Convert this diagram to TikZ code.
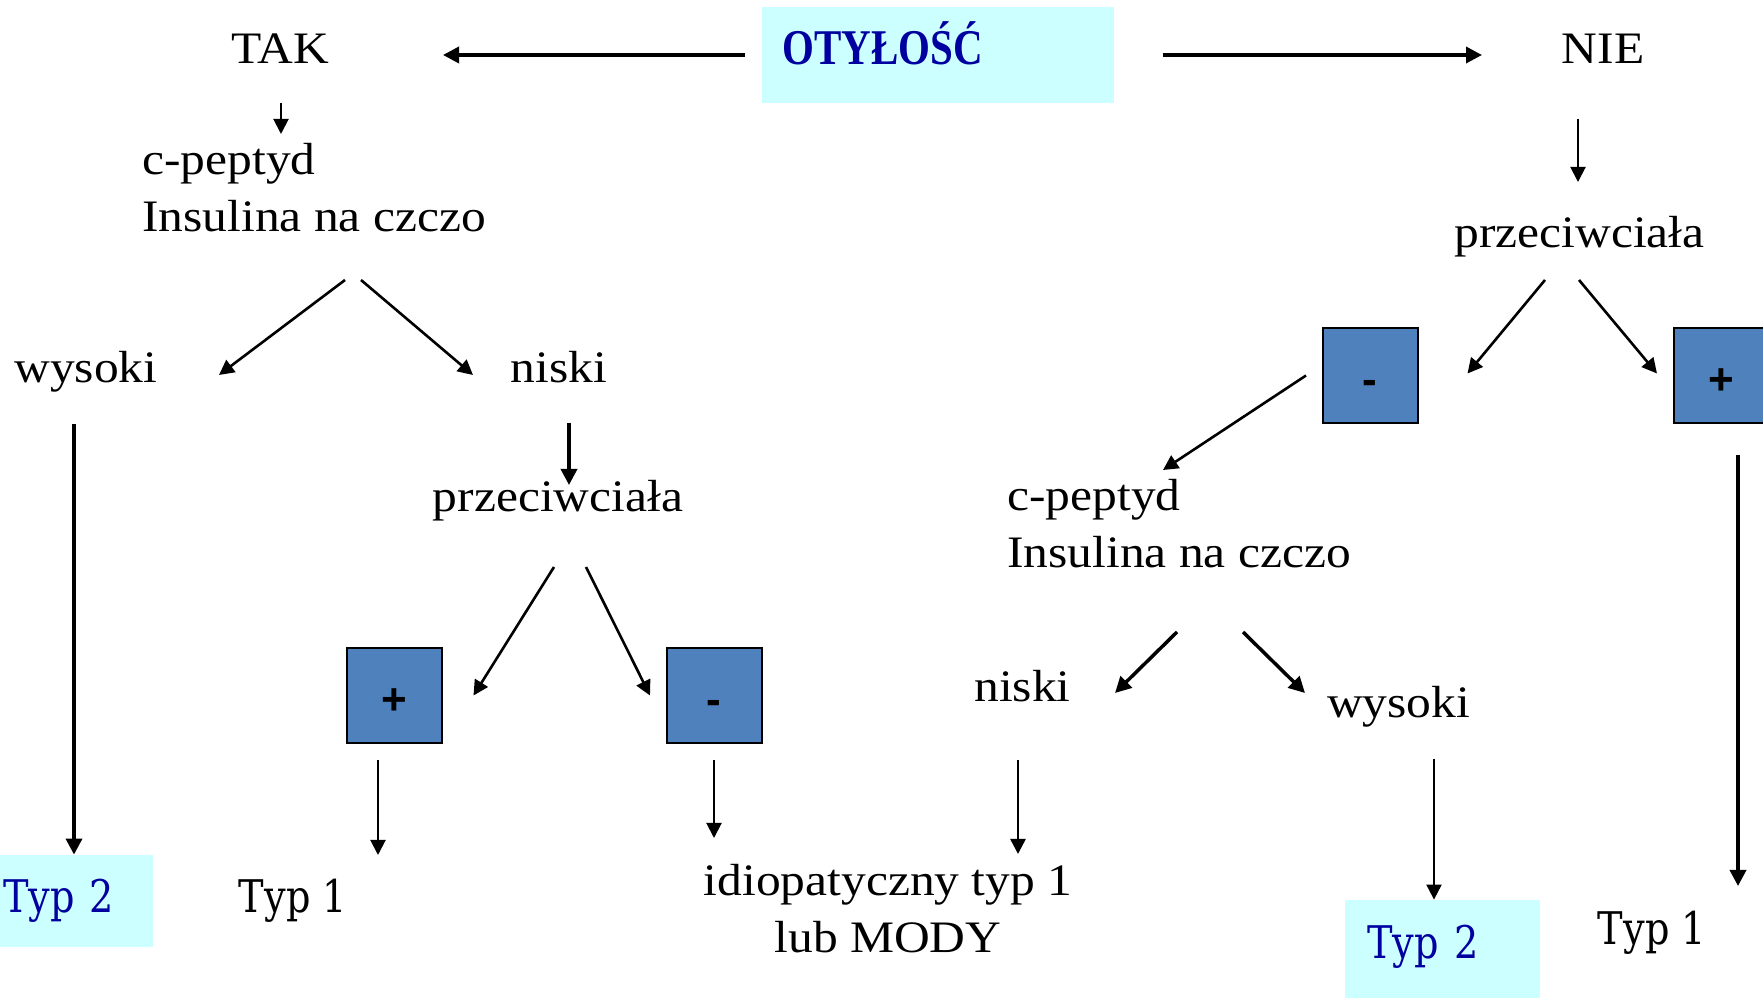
\documentclass[tikz,border=0pt]{standalone}
\usepackage{fontspec}
\setmainfont[FakeStretch=1.1]{Liberation Serif}
\newfontfamily\typfont[FakeStretch=0.85]{DejaVu Serif}
\newfontfamily\headfont[FakeStretch=0.82]{Liberation Serif}
\newfontfamily\signfont{Liberation Sans}
\usepackage{xcolor}
\usetikzlibrary{arrows.meta, calc}
\definecolor{boxblue}{HTML}{4F81BD}
\definecolor{lightcyan}{HTML}{CCFFFF}
\definecolor{darkblue}{HTML}{0000A0}

\begin{document}
\begin{tikzpicture}[x=0.5pt, y=-0.5pt]
        \tikzstyle{txt} = [inner sep=0pt, anchor=base, font=\fontsize{22.5pt}{28.5pt}\selectfont]
        \tikzstyle{typ} = [inner sep=0pt, anchor=base, font=\typfont\fontsize{22.5pt}{27pt}\selectfont]
        \tikzstyle{head} = [fill=lightcyan, text=darkblue, anchor=west, inner xsep=10pt, inner ysep=0pt, text width=156pt, align=left, minimum height=48pt, text height=16.5pt, text depth=6.5pt, font=\headfont\bfseries\fontsize{25pt}{30pt}\selectfont]
        \tikzstyle{result} = [fill=lightcyan, text=darkblue, anchor=west, inner xsep=11pt, inner ysep=0pt, align=left, minimum height=46pt, text height=16.5pt, text depth=4.5pt, font=\typfont\fontsize{22.5pt}{27pt}\selectfont]
        \tikzstyle{sign} = [draw=black, line width=1pt, fill=boxblue, minimum size=47.5pt, inner sep=0pt, text height=19pt, text depth=0pt, font=\signfont\bfseries\fontsize{22pt}{26pt}\selectfont]
        \tikzstyle{thinlink} = [draw, line width=1pt, -{Triangle[length=7.5pt, width=7.5pt]}]
        \tikzstyle{link} = [draw, line width=1.3pt, -{Triangle[length=7.5pt, width=7.5pt]}]
        \tikzstyle{thicklink} = [draw, line width=1.75pt, -{Triangle[length=8pt, width=8pt]}]

        \useasboundingbox (0,0) rectangle (1763,999);

        % top row
        \node [txt] (tak) at (280,64) {TAK};
        \node [head] (obes) at (762,55) {OTYŁOŚĆ};
        \node [txt] (nie) at (1603,64) {NIE};

        % left branch
        \node [txt, anchor=base west, align=left] (cpepL) at (142,232) {c-peptyd\\Insulina na czczo};
        \node [txt] (wysokiL) at (86,383) {wysoki};
        \node [txt] (niskiL) at (559,383) {niski};
        \node [txt] (przecL) at (558,512) {przeciwciała};
        \node [sign] (plusL) at (394,695.5) {+};
        \node [sign] (minusL) at (714,695.5) {-};
        \node [result, text width=64pt] (typ2L) at (-19,901) {Typ 2};
        \node [typ] (typ1L) at (293,913) {Typ 1};
        \node [txt, align=center] (idio) at (888,952) {idiopatyczny typ 1\\lub MODY};

        % right branch
        \node [txt] (przecR) at (1579.5,248) {przeciwciała};
        \node [sign] (minusR) at (1370,375.5) {-};
        \node [sign] (plusR) at (1721.5,375.5) {+};
        \node [txt, anchor=base west, align=left] (cpepR) at (1007,568) {c-peptyd\\Insulina na czczo};
        \node [txt] (niskiR) at (1022.5,702) {niski};
        \node [txt] (wysokiR) at (1398.5,718) {wysoki};
        \node [result, text width=75.5pt, minimum height=49pt, text depth=7.5pt] (typ2R) at (1345,949) {Typ 2};
        \node [typ] (typ1R) at (1652,944) {Typ 1};

        \path [thicklink] ($(obes.west)+(-17,0)$) -- ($(tak.base)+(163,-9)$);
        \path [thicklink] ($(obes.east)+(48,0)$) -- ($(nie.base)+(-121,-9)$);
        \path [thinlink] ($(tak.base)+(1,39)$) -- ($(cpepL.base west)+(139,-98)$);
        \path [thinlink] ($(nie.base)+(-25,55)$) -- ($(przecR.base)+(-1.5,-66)$);

        \path [link] ($(cpepL.base west)+(203,48)$) -- ($(wysokiL.base)+(133,-8)$);
        \path [link] ($(cpepL.base west)+(219,48)$) -- ($(niskiL.base)+(-86,-8)$);
        \path [thicklink] ($(wysokiL.base)+(-12,41)$) -- ($(typ2L.north west)+(93,0)$);
        \path [thicklink] ($(niskiL.base)+(10,40)$) -- ($(przecL.base)+(11,-27)$);
        \path [link] ($(przecL.base)+(-4,55)$) -- ($(plusL.east)+(31,0)$);
        \path [link] ($(przecL.base)+(28,55)$) -- ($(minusL.west)+(-15.5,0)$);
        \path [thinlink] ($(plusL.south)+(-16,16)$) -- ($(typ1L.base)+(85,-58)$);
        \path [thinlink] ($(minusL.south)+(0,16)$) -- ($(idio.base)+(-174,-114)$);

        \path [link] ($(przecR.base)+(-34.5,32)$) -- ($(minusR.east)+(49,-2)$);
        \path [link] ($(przecR.base)+(-0.5,32)$) -- ($(plusR.west)+(-16,-2)$);
        \path [link] ($(minusR.west)+(-15.5,0)$) -- ($(cpepR.base west)+(156,-98)$);
        \path [thicklink] ($(cpepR.base west)+(170,64)$) -- ($(niskiR.base)+(92.5,-9)$);
        \path [thicklink] ($(cpepR.base west)+(236,64)$) -- ($(wysokiR.base)+(-93.5,-25)$);
        \path [link] ($(niskiR.base)+(-4.5,58)$) -- ($(idio.base)+(130,-98)$);
        \path [thinlink] ($(wysokiR.base)+(35.5,41)$) -- ($(typ2R.north west)+(89,0)$);
        \path [thicklink] ($(plusR.south)+(16.5,31)$) -- ($(typ1R.base)+(86,-58)$);
    \end{tikzpicture}
\end{document}
